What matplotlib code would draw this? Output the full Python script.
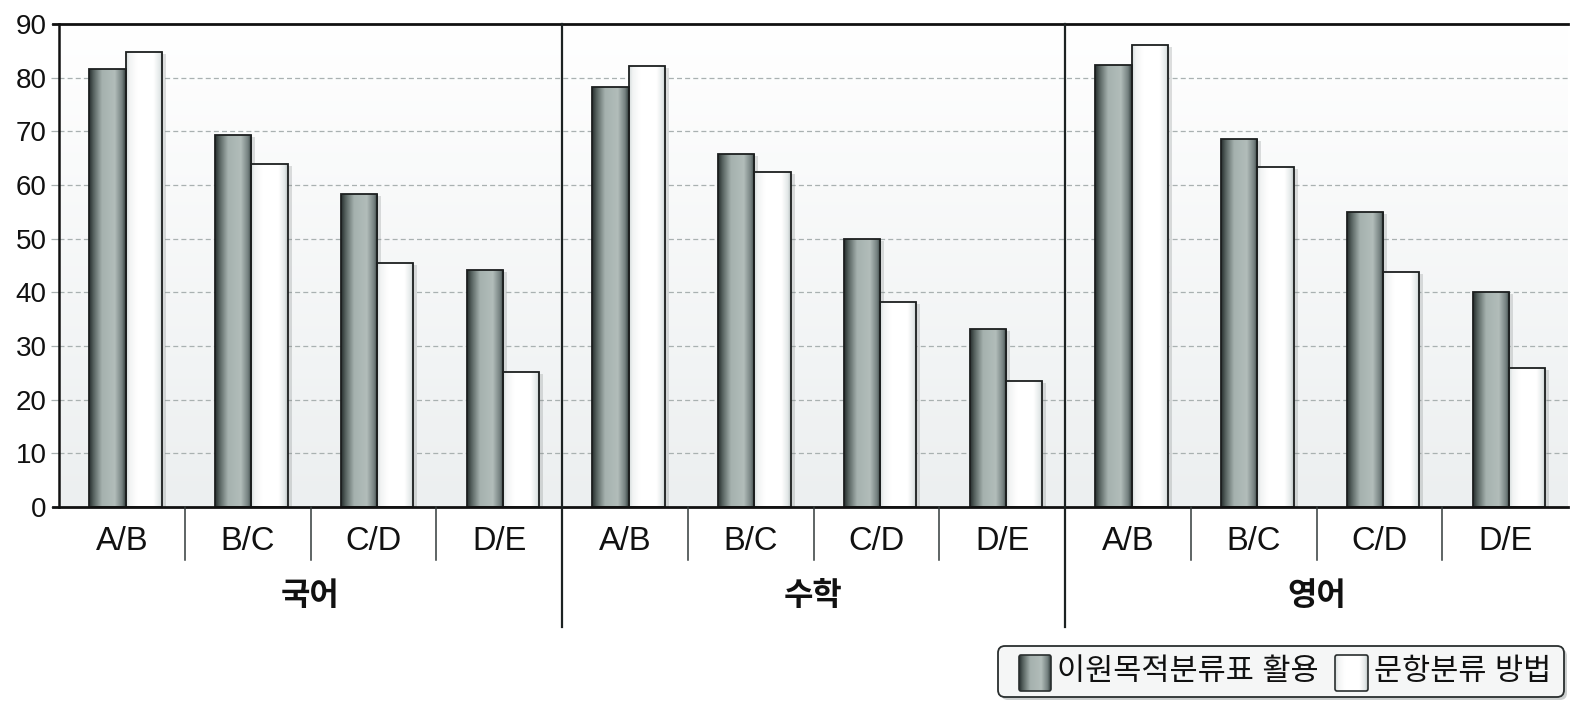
import numpy as np
import matplotlib
matplotlib.use('Agg')
import matplotlib.pyplot as plt
from matplotlib.colors import LinearSegmentedColormap
from matplotlib.patches import FancyBboxPatch, Rectangle
from matplotlib import transforms

# ---------------- data ----------------
subjects = ['국어', '수학', '영어']
grades = ['A/B', 'B/C', 'C/D', 'D/E']
series_names = ['이원목적분류표 활용', '문항분류 방법']
twoway = [81.7, 69.3, 58.4, 44.2, 78.2, 65.7, 50.0, 33.1, 82.4, 68.5, 54.9, 40.1]
itemcls = [84.7, 63.9, 45.4, 25.2, 82.1, 62.5, 38.2, 23.5, 86.0, 63.4, 43.7, 25.9]
yticks = [0, 10, 20, 30, 40, 50, 60, 70, 80, 90]

FONT = ['Liberation Sans', 'Noto Sans CJK KR', 'DejaVu Sans']
plt.rcParams['font.family'] = FONT

W, H = 1584, 712
fig = plt.figure(figsize=(W / 100, H / 100), dpi=100)
fig.patch.set_facecolor('white')

ax_l, ax_r, ax_t, ax_b = 59, 1568, 24, 507
ax = fig.add_axes([ax_l / W, 1 - ax_b / H, (ax_r - ax_l) / W, (ax_b - ax_t) / H])

n = len(twoway)
x = np.arange(n)
bw = 0.288
off = 0.03
ax.set_xlim(-0.5, n - 0.5)
ax.set_ylim(0, 90)

# background gradient
bg = LinearSegmentedColormap.from_list('bg', ['#eceff0', '#ffffff'])
ax.imshow(np.linspace(0, 1, 256).reshape(-1, 1), extent=[-0.5, n - 0.5, 0, 90],
          origin='lower', cmap=bg, aspect='auto', zorder=0)

# grid
for yv in yticks[1:-1]:
    ax.axhline(yv, color='#a9b1b1', lw=0.9, dashes=(4, 2.5), zorder=0.5)

dark_cmap = LinearSegmentedColormap.from_list('d', [
    (0, '#252e2d'), (0.12, '#56625f'), (0.35, '#a5b1ae'), (0.7, '#b2bdba'),
    (0.9, '#74807f'), (1, '#313b3a')])
white_cmap = LinearSegmentedColormap.from_list('w', [
    (0, '#d5dbdb'), (0.1, '#f2f4f4'), (0.3, '#ffffff'), (0.75, '#ffffff'),
    (0.92, '#e2e7e7'), (1, '#b5bebe')])
grad = np.linspace(0, 1, 128).reshape(1, -1)

shadow_tr = transforms.offset_copy(ax.transData, fig=fig, x=4, y=-2, units='dots')


def draw_series(pos, vals, cmap):
    bars = ax.bar(pos, vals, width=bw, facecolor='none', edgecolor='#1c1f1f',
                  lw=1.3, zorder=3)
    for b in bars:
        x0, w_, h_ = b.get_x(), b.get_width(), b.get_height()
        sh = Rectangle((x0, 0), w_, h_, transform=shadow_tr, facecolor='#7a8080',
                       alpha=0.25, lw=0, zorder=1.5)
        ax.add_patch(sh)
        im = ax.imshow(grad, extent=[x0, x0 + w_, 0, h_], cmap=cmap, aspect='auto',
                       zorder=2, interpolation='bilinear')
        im.set_clip_path(b)
    return bars


draw_series(x - bw / 2 + off, twoway, dark_cmap)
draw_series(x + bw / 2 + off, itemcls, white_cmap)
ax.set_xlim(-0.5, n - 0.5)
ax.set_ylim(0, 90)

# spines / ticks
for s in ['top', 'right', 'bottom', 'left']:
    ax.spines[s].set_visible(False)
ax.set_xticks([])
ax.set_yticks(yticks)
ax.set_yticklabels([str(v) for v in yticks], fontsize=20, color='#111111')
ax.tick_params(axis='y', length=6, width=0.9, color='#a9b1b1', pad=3)

ytr = ax.get_yaxis_transform()
xtr = ax.get_xaxis_transform()
ext = 6 / (ax_r - ax_l)
ax.plot([-ext, 1], [0, 0], transform=ytr, color='#111111', lw=2, clip_on=False, zorder=5)
ax.plot([-ext, 1], [90, 90], transform=ytr, color='#111111', lw=2, clip_on=False, zorder=5)
ax.plot([-0.5, -0.5], [0, 1], transform=xtr, color='#111111', lw=1.8, clip_on=False, zorder=5)

# separators
ng = len(grades)
cat_bot = -(560 - ax_b) / (ax_b - ax_t)
grp_bot = -(627 - ax_b) / (ax_b - ax_t)
for i in range(n - 1):
    xs = i + 0.5
    if (i + 1) % ng == 0:
        ax.plot([xs, xs], [1, grp_bot], transform=xtr, color='#1c2222', lw=1.6,
                clip_on=False, zorder=5)
    else:
        ax.plot([xs, xs], [0, cat_bot], transform=xtr, color='#333a3a', lw=1.1,
                clip_on=False, zorder=5)

# category labels
lab_tr = transforms.blended_transform_factory(ax.transData, fig.transFigure)
for i in range(n):
    ax.text(i, 1 - 541 / H, grades[i % ng], transform=lab_tr, ha='center', va='center',
            fontsize=23.5, color='#111111')
for g, s in enumerate(subjects):
    ax.text(g * ng + (ng - 1) / 2, 1 - 597 / H, s, transform=lab_tr, ha='center',
            va='center', fontsize=23, fontweight='bold', color='#111111')

# legend (manual)
itr = fig.dpi_scale_trans


def px(xp, yp):
    return xp / 100, (H - yp) / 100


lx0, ly0, lx1, ly1 = 998, 646, 1564, 697
shadow = FancyBboxPatch(px(lx0 + 3, ly1 + 3), (lx1 - lx0) / 100, (ly1 - ly0) / 100,
                        boxstyle='round,pad=0,rounding_size=0.07', transform=itr,
                        facecolor='#9aa0a0', edgecolor='none', alpha=0.5, zorder=1)
fig.patches.append(shadow)
box = FancyBboxPatch(px(lx0, ly1), (lx1 - lx0) / 100, (ly1 - ly0) / 100,
                     boxstyle='round,pad=0,rounding_size=0.07', transform=itr,
                     facecolor='#f5f6f6', edgecolor='#2a2f2f', lw=1.3, zorder=2)
fig.patches.append(box)

sw = [(1019, 1051, dark_cmap), (1335, 1368, white_cmap)]
for (sx0, sx1, cm) in sw:
    sy0, sy1 = 655, 691
    sax = fig.add_axes([sx0 / W, 1 - sy1 / H, (sx1 - sx0) / W, (sy1 - sy0) / H])
    sax.set_zorder(20)
    sax.imshow(grad, cmap=cm, aspect='auto', extent=[0, 1, 0, 1], interpolation='bilinear')
    sax.set_xlim(0, 1)
    sax.set_ylim(0, 1)
    sax.axis('off')
    sax.add_patch(FancyBboxPatch((0, 0), 1, 1, boxstyle='round,pad=0,rounding_size=0.06',
                                 transform=sax.transAxes, facecolor='none',
                                 edgecolor='#2a2f2f', lw=1.2, clip_on=False, zorder=10))

fig.text(1057 / W, 1 - 672 / H, series_names[0], ha='left', va='center', fontsize=22,
         color='#111111')
fig.text(1374 / W, 1 - 672 / H, series_names[1], ha='left', va='center', fontsize=22,
         color='#111111')

fig.savefig('out.png', dpi=100)
